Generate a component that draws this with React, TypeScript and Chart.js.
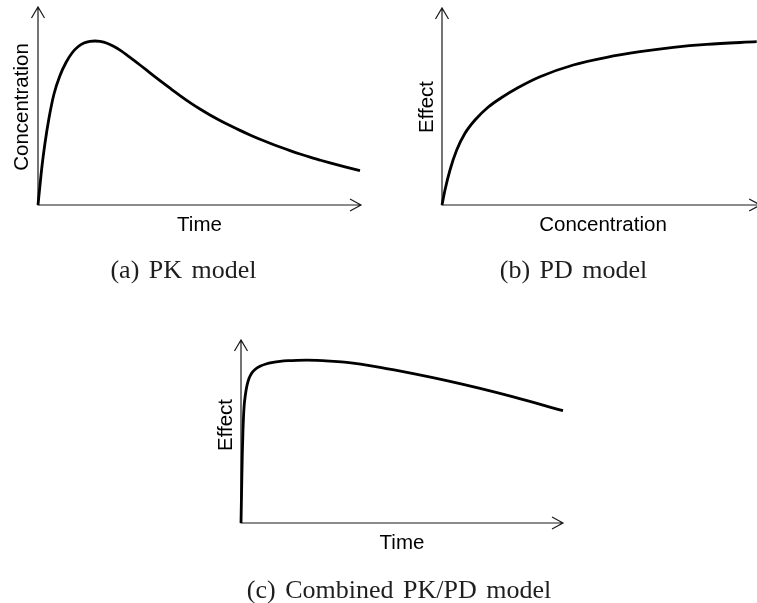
import React, { useEffect, useRef } from "react";
import { Chart, registerables } from "chart.js";

Chart.register(...registerables);

// ---- Data ----
// (a) PK model: concentration vs time
const PK_TIME = [0, 0.062, 0.124, 0.217, 0.341, 0.495, 0.681, 0.867, 1.053, 1.238, 1.424, 1.61, 1.765, 1.92, 2.136, 2.353, 2.539, 2.848, 3.158, 3.467, 3.777, 4.087, 4.396, 4.706, 5.015, 5.325, 5.635, 5.944, 6.254, 6.563, 6.873, 7.183, 7.492, 7.802, 8.111, 8.421, 8.731, 9.04, 9.505, 9.969];
const PK_CONC = [0, 1.01, 1.97, 3.131, 4.394, 5.606, 6.54, 7.197, 7.677, 7.99, 8.182, 8.268, 8.283, 8.263, 8.172, 8.0, 7.818, 7.455, 7.071, 6.677, 6.283, 5.899, 5.525, 5.172, 4.848, 4.545, 4.268, 4.01, 3.768, 3.54, 3.323, 3.121, 2.929, 2.747, 2.576, 2.414, 2.268, 2.126, 1.924, 1.732];

// (b) PD model: effect vs concentration
const PD_CONC = [0, 0.095, 0.254, 0.467, 0.73, 1.048, 1.47, 1.895, 2.422, 3.111, 4.168, 5.229, 6.286, 7.343, 8.403, 9.99];
const PD_EFFECT = [0, 0.761, 1.777, 2.792, 3.64, 4.315, 4.975, 5.457, 5.964, 6.513, 7.107, 7.497, 7.782, 8.005, 8.157, 8.289];

// (c) Combined PK/PD model: effect vs time
const PKPD_TIME = [0, 0.019, 0.04, 0.062, 0.093, 0.14, 0.186, 0.248, 0.326, 0.435, 0.59, 0.776, 0.994, 1.211, 1.46, 1.739, 2.05, 2.36, 2.764, 3.283, 4.317, 5.351, 6.388, 7.422, 8.457, 10.0];
const PKPD_EFFECT = [0, 1.803, 3.716, 5.082, 6.284, 7.049, 7.514, 7.896, 8.169, 8.388, 8.563, 8.689, 8.776, 8.831, 8.869, 8.891, 8.896, 8.885, 8.847, 8.781, 8.508, 8.164, 7.781, 7.355, 6.891, 6.137];

// Axis titles and captions
const AXIS_X_TITLES = ["Time", "Concentration", "Time"];
const AXIS_Y_TITLES = ["Concentration", "Effect", "Effect"];
const CAPTIONS = ["(a) PK model", "(b) PD model", "(c) Combined PK/PD model"];

const W = 757;
const H = 603;

type PanelCfg = {
  xs: number[];
  ys: number[];
  xTitle: string;
  yTitle: string;
  caption: string;
  area: { left: number; top: number; right: number; bottom: number };
  xEnd: number;
  yEnd: number;
  xTitlePos: [number, number];
  yTitlePos: [number, number];
  captionPos: [number, number];
};

const PANELS: PanelCfg[] = [
  {
    xs: PK_TIME,
    ys: PK_CONC,
    xTitle: AXIS_X_TITLES[0],
    yTitle: AXIS_Y_TITLES[0],
    caption: CAPTIONS[0],
    area: { left: 38, top: 7, right: 361, bottom: 205 },
    xEnd: 10,
    yEnd: 10,
    xTitlePos: [199.5, 230.5],
    yTitlePos: [28.3, 107],
    captionPos: [183.5, 277.5],
  },
  {
    xs: PD_CONC,
    ys: PD_EFFECT,
    xTitle: AXIS_X_TITLES[1],
    yTitle: AXIS_Y_TITLES[1],
    caption: CAPTIONS[1],
    area: { left: 442, top: 8, right: 757, bottom: 205 },
    xEnd: 10.1,
    yEnd: 10,
    xTitlePos: [603, 230.5],
    yTitlePos: [433.3, 107],
    captionPos: [573.5, 277.5],
  },
  {
    xs: PKPD_TIME,
    ys: PKPD_EFFECT,
    xTitle: AXIS_X_TITLES[2],
    yTitle: AXIS_Y_TITLES[2],
    caption: CAPTIONS[2],
    area: { left: 241, top: 340, right: 563, bottom: 523 },
    xEnd: 10,
    yEnd: 10,
    xTitlePos: [402, 549.3],
    yTitlePos: [231.7, 425],
    captionPos: [399, 597.5],
  },
];

const arrowAxesPlugin = {
  id: "arrowAxes",
  beforeDatasetsDraw(chart: any, _args: any, opts: any) {
    const { ctx, scales } = chart;
    const x0 = scales.x.getPixelForValue(0);
    const y0 = scales.y.getPixelForValue(0);
    const xt = scales.x.getPixelForValue(opts.xEnd);
    const yt = scales.y.getPixelForValue(opts.yEnd);
    ctx.save();
    ctx.strokeStyle = "#1a1a1a";
    ctx.lineWidth = 1.2;
    ctx.lineJoin = "miter";
    ctx.beginPath();
    ctx.moveTo(x0, yt);
    ctx.lineTo(x0, y0);
    ctx.lineTo(xt, y0);
    ctx.moveTo(x0 - 6.5, yt + 11);
    ctx.lineTo(x0, yt);
    ctx.lineTo(x0 + 6.5, yt + 11);
    ctx.moveTo(xt - 11, y0 - 6);
    ctx.lineTo(xt, y0);
    ctx.lineTo(xt - 11, y0 + 6);
    ctx.stroke();
    ctx.restore();
  },
  afterDraw(chart: any, _args: any, opts: any) {
    const { ctx } = chart;
    ctx.save();
    ctx.fillStyle = "#000";
    ctx.font = '20.5px "Liberation Sans", Arial, sans-serif';
    ctx.textAlign = "center";
    ctx.textBaseline = "alphabetic";
    ctx.fillText(opts.xTitle, opts.xTitlePos[0], opts.xTitlePos[1]);
    ctx.save();
    ctx.translate(opts.yTitlePos[0], opts.yTitlePos[1]);
    ctx.rotate(-Math.PI / 2);
    ctx.fillText(opts.yTitle, 0, 0);
    ctx.restore();
    ctx.fillStyle = "#1e1e1e";
    ctx.font = '26px "Liberation Serif", "Times New Roman", serif';
    try {
      (ctx as any).wordSpacing = "3px";
    } catch (e) {}
    ctx.fillText(opts.caption, opts.captionPos[0], opts.captionPos[1]);
    ctx.restore();
  },
};

function Panel({ cfg }: { cfg: PanelCfg }) {
  const ref = useRef<HTMLCanvasElement | null>(null);
  useEffect(() => {
    if (!ref.current) return;
    const a = cfg.area;
    const chart = new Chart(ref.current, {
      type: "line",
      data: {
        datasets: [
          {
            data: cfg.xs.map((x, i) => ({ x, y: cfg.ys[i] })),
            borderColor: "#000",
            borderWidth: 2.8,
            pointRadius: 0,
            cubicInterpolationMode: "monotone",
            fill: false,
            clip: false as any,
          },
        ],
      },
      options: {
        responsive: false,
        animation: false,
        devicePixelRatio: 1,
        layout: {
          padding: { left: a.left, top: a.top, right: W - a.right, bottom: H - a.bottom },
        },
        scales: {
          x: { type: "linear", min: 0, max: 10, display: false },
          y: { type: "linear", min: 0, max: 10, display: false },
        },
        plugins: {
          legend: { display: false },
          tooltip: { enabled: false },
          arrowAxes: {
            xEnd: cfg.xEnd,
            yEnd: cfg.yEnd,
            xTitle: cfg.xTitle,
            yTitle: cfg.yTitle,
            caption: cfg.caption,
            xTitlePos: cfg.xTitlePos,
            yTitlePos: cfg.yTitlePos,
            captionPos: cfg.captionPos,
          },
        } as any,
        events: [],
      },
      plugins: [arrowAxesPlugin as any],
    });
    return () => chart.destroy();
  }, [cfg]);
  return (
    <canvas
      ref={ref}
      width={W}
      height={H}
      style={{ position: "absolute", left: 0, top: 0, width: W, height: H }}
    />
  );
}

export default function App() {
  return (
    <div style={{ position: "absolute", left: 0, top: 0, width: W, height: H, background: "#fff", overflow: "hidden" }}>
      {PANELS.map((p, i) => (
        <Panel key={i} cfg={p} />
      ))}
    </div>
  );
}
